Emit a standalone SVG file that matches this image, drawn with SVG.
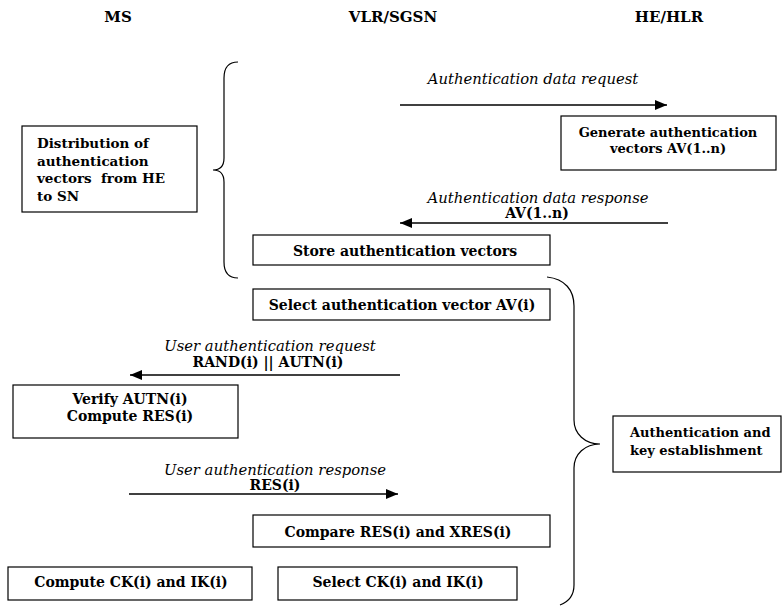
<svg xmlns="http://www.w3.org/2000/svg" width="783" height="606" viewBox="0 0 783 606">
<style>
text{font-family:"DejaVu Serif","Liberation Serif",serif;fill:#000;}
.h{font-size:15px;font-weight:bold;text-anchor:middle;}
.t{font-size:14px;font-weight:bold;}
.s{font-size:13px;}
.m{font-size:13.5px;}
.c{text-anchor:middle;}
.i{font-size:14.8px;font-style:italic;text-anchor:middle;}
.box{fill:#fff;stroke:#000;stroke-width:1.2;}
.ln{stroke:#000;stroke-width:1.3;fill:none;}
.br{stroke:#000;stroke-width:1.2;fill:none;}
</style>
<defs>
<marker id="ah" viewBox="0 0 12 10" refX="12" refY="5" markerWidth="12" markerHeight="10" markerUnits="userSpaceOnUse" orient="auto">
<path d="M0,0 L12,5 L0,10 z" fill="#000"/>
</marker>
</defs>
<rect width="783" height="606" fill="#fff"/>
<g id="headers">
<text class="h" x="118" y="22">MS</text>
<text class="h" x="393" y="22">VLR/SGSN</text>
<text class="h" x="669" y="22">HE/HLR</text>
</g>
<g id="connectors">
<line class="ln" x1="400" y1="105" x2="667" y2="105" marker-end="url(#ah)"/>
<line class="ln" x1="668" y1="223" x2="400" y2="223" marker-end="url(#ah)"/>
<line class="ln" x1="400" y1="375" x2="130" y2="375" marker-end="url(#ah)"/>
<line class="ln" x1="129" y1="494" x2="398" y2="494" marker-end="url(#ah)"/>
<path class="br" d="M238,62 C228,62 224,68 224,78 L224,158 C224,166 220,170 213,170 C220,170 224,174 224,182 L224,262 C224,272 228,278 238,278"/>
<path class="br" d="M547,277 C565,279 574,290 574,306 L574,420 C574,434 585,444 600,444 C585,444 574,454 574,468 L574,585 C574,596 568,602 560,605"/>
</g>
<g id="labels">
<text class="i" x="533" y="84">Authentication data request</text>
<text class="i" x="538" y="203">Authentication data response</text>
<text class="t c" x="537" y="218">AV(1..n)</text>
<text class="i" x="270" y="351">User authentication request</text>
<text class="t c" x="268" y="367">RAND(i) || AUTN(i)</text>
<text class="i" x="275" y="475">User authentication response</text>
<text class="t c" x="275" y="490">RES(i)</text>
</g>
<g id="distribution">
<rect class="box" x="22" y="126" width="175" height="86"/>
<text class="t m" x="37" y="148">Distribution of</text>
<text class="t m" x="37" y="165.5">authentication</text>
<text class="t m" x="37" y="183" xml:space="preserve">vectors  from HE</text>
<text class="t m" x="37" y="200.5">to SN</text>
</g>
<g id="generate">
<rect class="box" x="561" y="116" width="215" height="54"/>
<text class="t s c" x="668" y="137">Generate authentication</text>
<text class="t s c" x="668" y="153">vectors AV(1..n)</text>
</g>
<g id="store">
<rect class="box" x="253" y="235" width="297" height="30"/>
<text class="t c" x="405" y="256">Store authentication vectors</text>
</g>
<g id="select-av">
<rect class="box" x="253" y="289" width="297" height="31"/>
<text class="t c" x="402" y="310">Select authentication vector AV(i)</text>
</g>
<g id="verify">
<rect class="box" x="13" y="385" width="225" height="53"/>
<text class="t c" x="130" y="404">Verify AUTN(i)</text>
<text class="t c" x="130" y="421">Compute RES(i)</text>
</g>
<g id="compare">
<rect class="box" x="253" y="515" width="297" height="32"/>
<text class="t c" x="398" y="537">Compare RES(i) and XRES(i)</text>
</g>
<g id="compute-ck">
<rect class="box" x="8" y="567" width="244" height="33"/>
<text class="t c" x="131" y="587">Compute CK(i) and IK(i)</text>
</g>
<g id="select-ck">
<rect class="box" x="278" y="567" width="239" height="33"/>
<text class="t c" x="398" y="587">Select CK(i) and IK(i)</text>
</g>
<g id="auth-key">
<rect class="box" x="613" y="416" width="168" height="56"/>
<text class="t s" x="630" y="437">Authentication and</text>
<text class="t s" x="630" y="455">key establishment</text>
</g>
</svg>
